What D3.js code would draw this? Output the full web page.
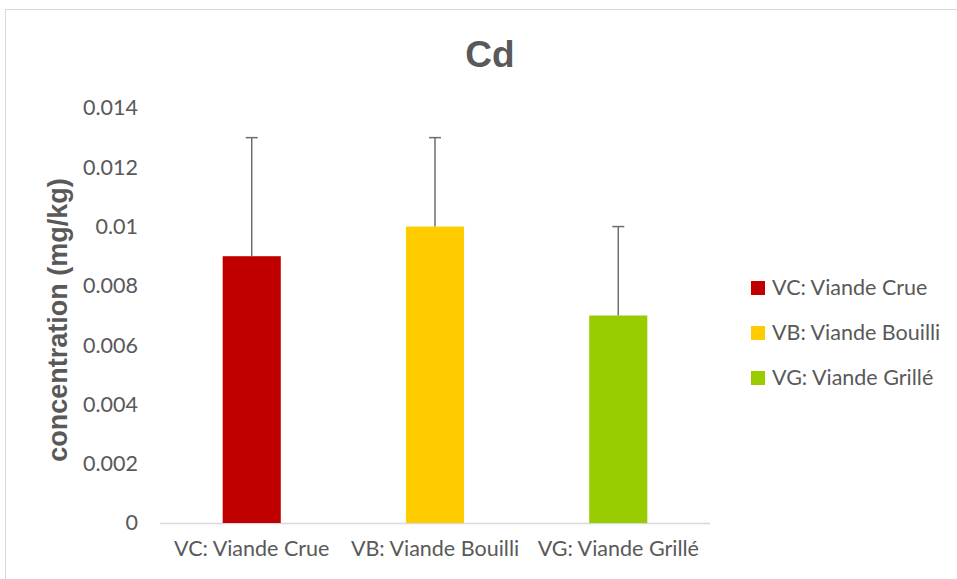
<!DOCTYPE html>
<html><head><meta charset="utf-8">
<script src="https://cdn.jsdelivr.net/npm/d3@7"></script>
<style>body{margin:0;background:#fff;} text{font-family:Lato,"Open Sans",sans-serif;}</style>
</head><body>
<svg id="c" width="957" height="579"></svg>
<script>
const categories = ["VC: Viande Crue", "VB: Viande Bouilli", "VG: Viande Grillé"];
const values = [0.009, 0.010, 0.007];
const errors = [0.004, 0.003, 0.003];
const colors = ["#C00000", "#FFCC00", "#99CC00"];
const yTicks = [0, 0.002, 0.004, 0.006, 0.008, 0.01, 0.012, 0.014];

const svg = d3.select("#c");
svg.append("rect").attr("x",5.5).attr("y",9.5).attr("width",960).attr("height",580)
  .attr("fill","#fff").attr("stroke","#d9d9d9");

const x = d3.scaleBand().domain(categories).range([160,710]).paddingInner(0.683).paddingOuter(0.342);
const y = d3.scaleLinear().domain([0,0.014]).range([523,108]);

svg.append("text").attr("x",490).attr("y",67).attr("text-anchor","middle")
  .attr("font-size",37).attr("font-weight","bold").attr("fill","#595959")
  .style("font-family","'Liberation Sans',Arial,sans-serif").text("Cd");

const ya = svg.append("g").attr("transform","translate(160,0)")
  .call(d3.axisLeft(y).tickValues(yTicks).tickSize(0).tickPadding(22).tickFormat(d=>d===0?"0":String(+d.toFixed(3))));
ya.select(".domain").remove();
ya.selectAll("text").attr("font-size",21.5).attr("fill","#595959").style("font-family","Lato,'Open Sans',sans-serif");

svg.append("line").attr("x1",160).attr("x2",710).attr("y1",523.5).attr("y2",523.5).attr("stroke","#d9d9d9").attr("stroke-width",1.5);

svg.selectAll("rect.bar").data(values).join("rect").attr("class","bar")
  .attr("x",(d,i)=>x(categories[i])).attr("width",x.bandwidth())
  .attr("y",d=>y(d)).attr("height",d=>y(0)-y(d)).attr("fill",(d,i)=>colors[i]);

const eb = svg.append("g");
values.forEach((v,i)=>{
  const cx = x(categories[i])+x.bandwidth()/2;
  eb.append("line").attr("x1",cx).attr("x2",cx).attr("y1",y(v)).attr("y2",y(v+errors[i])).attr("stroke","#6d6d6d").attr("stroke-width",1.5);
  eb.append("line").attr("x1",cx-6).attr("x2",cx+6).attr("y1",y(v+errors[i])).attr("y2",y(v+errors[i])).attr("stroke","#6d6d6d").attr("stroke-width",1.5);
});

const xa = svg.append("g").attr("transform","translate(0,523)")
  .call(d3.axisBottom(x).tickSize(0).tickPadding(18));
xa.select(".domain").remove();
xa.selectAll("text").attr("font-size",21.5).attr("fill","#595959").style("font-family","Lato,'Open Sans',sans-serif");

svg.append("text").attr("transform","translate(67,320) rotate(-90)").attr("text-anchor","middle")
  .attr("font-size",27).attr("font-weight","bold").attr("fill","#595959")
  .style("font-family","'Liberation Sans',Arial,sans-serif").text("concentration (mg/kg)");

const lg = svg.append("g");
categories.forEach((c,i)=>{
  const yy = 288 + i*45;
  lg.append("rect").attr("x",751).attr("y",yy-7).attr("width",14).attr("height",14).attr("fill",colors[i]);
  lg.append("text").attr("x",772).attr("y",yy+7).attr("font-size",21.5).attr("fill","#595959").text(c);
});
</script>
</body></html>
